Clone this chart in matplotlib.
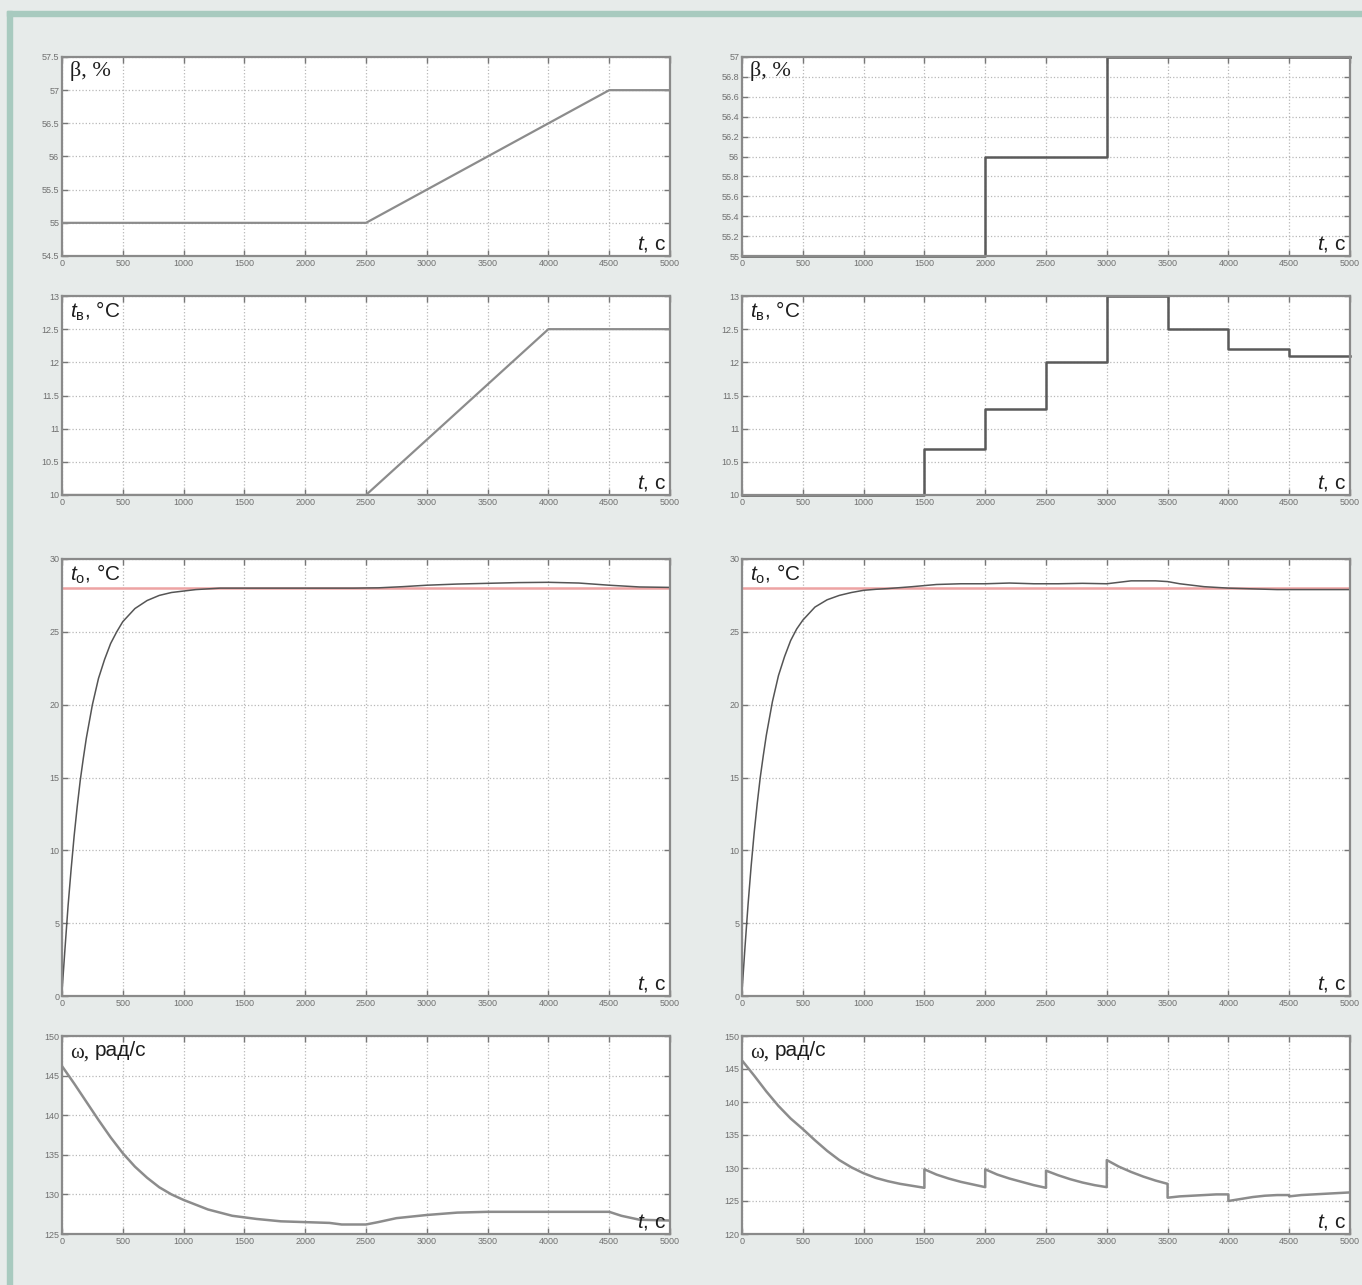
import matplotlib
matplotlib.use("Agg")
import matplotlib.pyplot as plt
from matplotlib import font_manager as fm
from matplotlib.patches import Rectangle

# ---- data ----
# row 1: beta, %
beta_lin_t = [0, 2500, 4500, 5000]
beta_lin_v = [55, 55, 57, 57]
beta_step_t = [0, 2000, 3000, 5000]
beta_step_v = [55, 56, 57, 57]

# row 2: t_v, °C
tv_lin_t = [0, 2500, 4000, 5000]
tv_lin_v = [10, 10, 12.5, 12.5]
tv_step_t = [0, 1500, 2000, 2500, 3000, 3500, 4000, 4500, 5000]
tv_step_v = [10, 10.7, 11.3, 12, 13, 12.5, 12.2, 12.1, 12.1]

# row 3: t_o, °C
t0_set = 28
t0_left_t = [0, 25, 50, 75, 100, 125, 150, 175, 200, 250, 300, 350, 400, 450, 500,
             600, 700, 800, 900, 1000, 1100, 1200, 1300, 1500, 2000, 2400, 2600,
             2800, 3000, 3250, 3500, 3750, 4000, 4250, 4500, 4750, 5000]
t0_left_v = [0.3, 3.3, 6.2, 8.7, 11.0, 13.0, 14.8, 16.3, 17.7, 20.0, 21.8, 23.1, 24.2,
             25.0, 25.7, 26.6, 27.15, 27.5, 27.7, 27.8, 27.9, 27.95, 28.0, 28.0, 28.0,
             28.0, 28.02, 28.1, 28.2, 28.28, 28.33, 28.38, 28.4, 28.35, 28.2, 28.08,
             28.05]
t0_right_t = [0, 25, 50, 75, 100, 125, 150, 175, 200, 250, 300, 350, 400, 450, 500,
              600, 700, 800, 900, 1000, 1100, 1200, 1400, 1600, 1800, 2000, 2200,
              2400, 2600, 2800, 3000, 3100, 3200, 3400, 3500, 3600, 3800, 4000, 4200,
              4400, 4700, 5000]
t0_right_v = [0.3, 3.4, 6.3, 8.9, 11.2, 13.2, 15.0, 16.5, 17.9, 20.2, 22.0, 23.3, 24.4,
              25.2, 25.8, 26.7, 27.2, 27.5, 27.7, 27.85, 27.92, 27.97, 28.1, 28.25,
              28.3, 28.3, 28.35, 28.3, 28.3, 28.33, 28.3, 28.4, 28.5, 28.5, 28.45,
              28.3, 28.1, 28.0, 27.95, 27.9, 27.9, 27.9]

# row 4: omega, rad/s
w_left_t = [0, 100, 200, 300, 400, 500, 600, 700, 800, 900, 1000, 1200, 1400,
            1600, 1800, 2000, 2200, 2300, 2500, 2600, 2750, 3000, 3250, 3500,
            4000, 4500, 4600, 4750, 5000]
w_left_v = [146.2, 144.0, 141.7, 139.4, 137.2, 135.2, 133.5, 132.1, 130.9, 130.0,
            129.3, 128.1, 127.3, 126.9, 126.6, 126.5, 126.4, 126.2, 126.2, 126.5,
            127.0, 127.4, 127.7, 127.8, 127.8, 127.8, 127.3, 126.8, 126.7]
w_right_t = [0, 100, 200, 300, 400, 500, 600, 700, 800, 900, 1000, 1100, 1200,
             1300, 1400, 1500,
             1500, 1600, 1700, 1800, 1900, 2000,
             2000, 2100, 2200, 2300, 2400, 2500,
             2500, 2600, 2700, 2800, 2900, 3000,
             3000, 3100, 3200, 3300, 3400, 3500,
             3500, 3600, 3700, 3800, 3900, 4000,
             4000, 4100, 4200, 4300, 4400, 4500,
             4500, 4600, 4700, 4800, 4900, 5000]
w_right_v = [146.3, 144.0, 141.6, 139.4, 137.5, 135.9, 134.2, 132.6, 131.2, 130.1,
             129.2, 128.5, 128.0, 127.6, 127.3, 127.0,
             129.8, 129.0, 128.4, 127.9, 127.5, 127.1,
             129.8, 129.0, 128.4, 127.9, 127.4, 127.0,
             129.6, 128.9, 128.3, 127.8, 127.4, 127.1,
             131.2, 130.2, 129.4, 128.7, 128.1, 127.6,
             125.5, 125.7, 125.8, 125.9, 126.0, 126.0,
             125.0, 125.3, 125.6, 125.8, 125.9, 125.9,
             125.7, 125.9, 126.0, 126.1, 126.2, 126.3]

xticks = list(range(0, 5001, 500))

# ---- fonts ----
names = {f.name for f in fm.fontManager.ttflist}
cond = "Liberation Sans Narrow" if "Liberation Sans Narrow" in names else "Liberation Sans"
serif = "Liberation Serif"
plt.rcParams["mathtext.fontset"] = "custom"
plt.rcParams["mathtext.rm"] = cond
plt.rcParams["mathtext.it"] = cond + ":italic"

W, H = 1362, 1285
fig = plt.figure(figsize=(W / 100, H / 100), dpi=100)
fig.patch.set_facecolor("#e7ebea")
# teal frame on top and left
fig.patches.append(Rectangle((7 / W, 0), 5 / W, 1 - 11 / H, transform=fig.transFigure,
                             color="#a8cabf", zorder=0))
fig.patches.append(Rectangle((7 / W, 1 - 16 / H), 1 - 7 / W, 5 / H, transform=fig.transFigure,
                             color="#a8cabf", zorder=0))

cols = [62, 742]
rows = [(57, 256), (296, 495), (559, 996), (1036, 1234)]
txt = "#1e1e1e"


def make_ax(col, row):
    x0 = cols[col]
    y0, y1 = rows[row]
    ax = fig.add_axes([x0 / W, 1 - y1 / H, 608 / W, (y1 - y0) / H])
    ax.set_facecolor("white")
    ax.set_xlim(0, 5000)
    ax.set_xticks(xticks)
    ax.grid(True, linestyle=":", color="#b8b8b8", linewidth=0.9)
    ax.tick_params(direction="in", top=True, right=True, length=4, width=1,
                   color="#777777", labelsize=6.5, labelcolor="#707070", pad=2)
    for s in ax.spines.values():
        s.set_color("#8a8a8a")
        s.set_linewidth(1.6)
    ax.annotate("$\\mathit{t}$, с", xy=(1, 0), xycoords="axes fraction", xytext=(-4, 2),
                textcoords="offset pixels", ha="right", va="bottom", fontsize=15,
                family=cond, color=txt)
    return ax


def label_tv(ax, sub):
    ax.annotate("$\\mathit{t}_{\\mathrm{%s}}$, °C" % sub, xy=(0, 1), xycoords="axes fraction",
                xytext=(8, -4), textcoords="offset pixels", ha="left", va="top",
                fontsize=15, family=cond, color=txt)


def label_beta(ax):
    ax.annotate("β, %", xy=(0, 1), xycoords="axes fraction", xytext=(8, -4),
                textcoords="offset pixels", ha="left", va="top", fontsize=16,
                family=serif, color=txt)


def label_w(ax):
    ax.annotate("ω,", xy=(0, 1), xycoords="axes fraction", xytext=(8, -8),
                textcoords="offset pixels", ha="left", va="top", fontsize=15,
                family=serif, color=txt)
    ax.annotate("рад/с", xy=(0, 1), xycoords="axes fraction", xytext=(33, -5),
                textcoords="offset pixels", ha="left", va="top", fontsize=15,
                family=cond, color=txt)


def set_y(ax, lo, hi, step):
    ticks = []
    v = lo
    while v <= hi + 1e-9:
        ticks.append(round(v, 2))
        v += step
    ax.set_ylim(lo, hi)
    ax.set_yticks(ticks)
    ax.set_yticklabels(["%g" % t for t in ticks], family=cond)
    ax.set_xticklabels([str(t) for t in xticks], family=cond)


light = "#8c8c8c"
dark = "#5a5a5a"

# row 1
ax = make_ax(0, 0)
set_y(ax, 54.5, 57.5, 0.5)
ax.plot(beta_lin_t, beta_lin_v, color=light, lw=1.6)
label_beta(ax)

ax = make_ax(1, 0)
set_y(ax, 55, 57, 0.2)
ax.step(beta_step_t, beta_step_v, where="post", color=dark, lw=1.8, clip_on=False)
label_beta(ax)

# row 2
ax = make_ax(0, 1)
set_y(ax, 10, 13, 0.5)
ax.plot(tv_lin_t, tv_lin_v, color=light, lw=1.6)
label_tv(ax, "в")

ax = make_ax(1, 1)
set_y(ax, 10, 13, 0.5)
ax.step(tv_step_t, tv_step_v, where="post", color=dark, lw=1.8, clip_on=False)
label_tv(ax, "в")

# row 3
ax = make_ax(0, 2)
set_y(ax, 0, 30, 5)
ax.axhline(t0_set, color="#eda3a3", lw=1.8)
ax.plot(t0_left_t, t0_left_v, color="#555555", lw=1.1)
label_tv(ax, "о")

ax = make_ax(1, 2)
set_y(ax, 0, 30, 5)
ax.axhline(t0_set, color="#eda3a3", lw=1.8)
ax.plot(t0_right_t, t0_right_v, color="#555555", lw=1.1)
label_tv(ax, "о")

# row 4
ax = make_ax(0, 3)
set_y(ax, 125, 150, 5)
ax.plot(w_left_t, w_left_v, color=light, lw=1.8)
label_w(ax)

ax = make_ax(1, 3)
set_y(ax, 120, 150, 5)
ax.plot(w_right_t, w_right_v, color=light, lw=1.8)
label_w(ax)

fig.savefig("out.png", dpi=100, facecolor=fig.get_facecolor())
